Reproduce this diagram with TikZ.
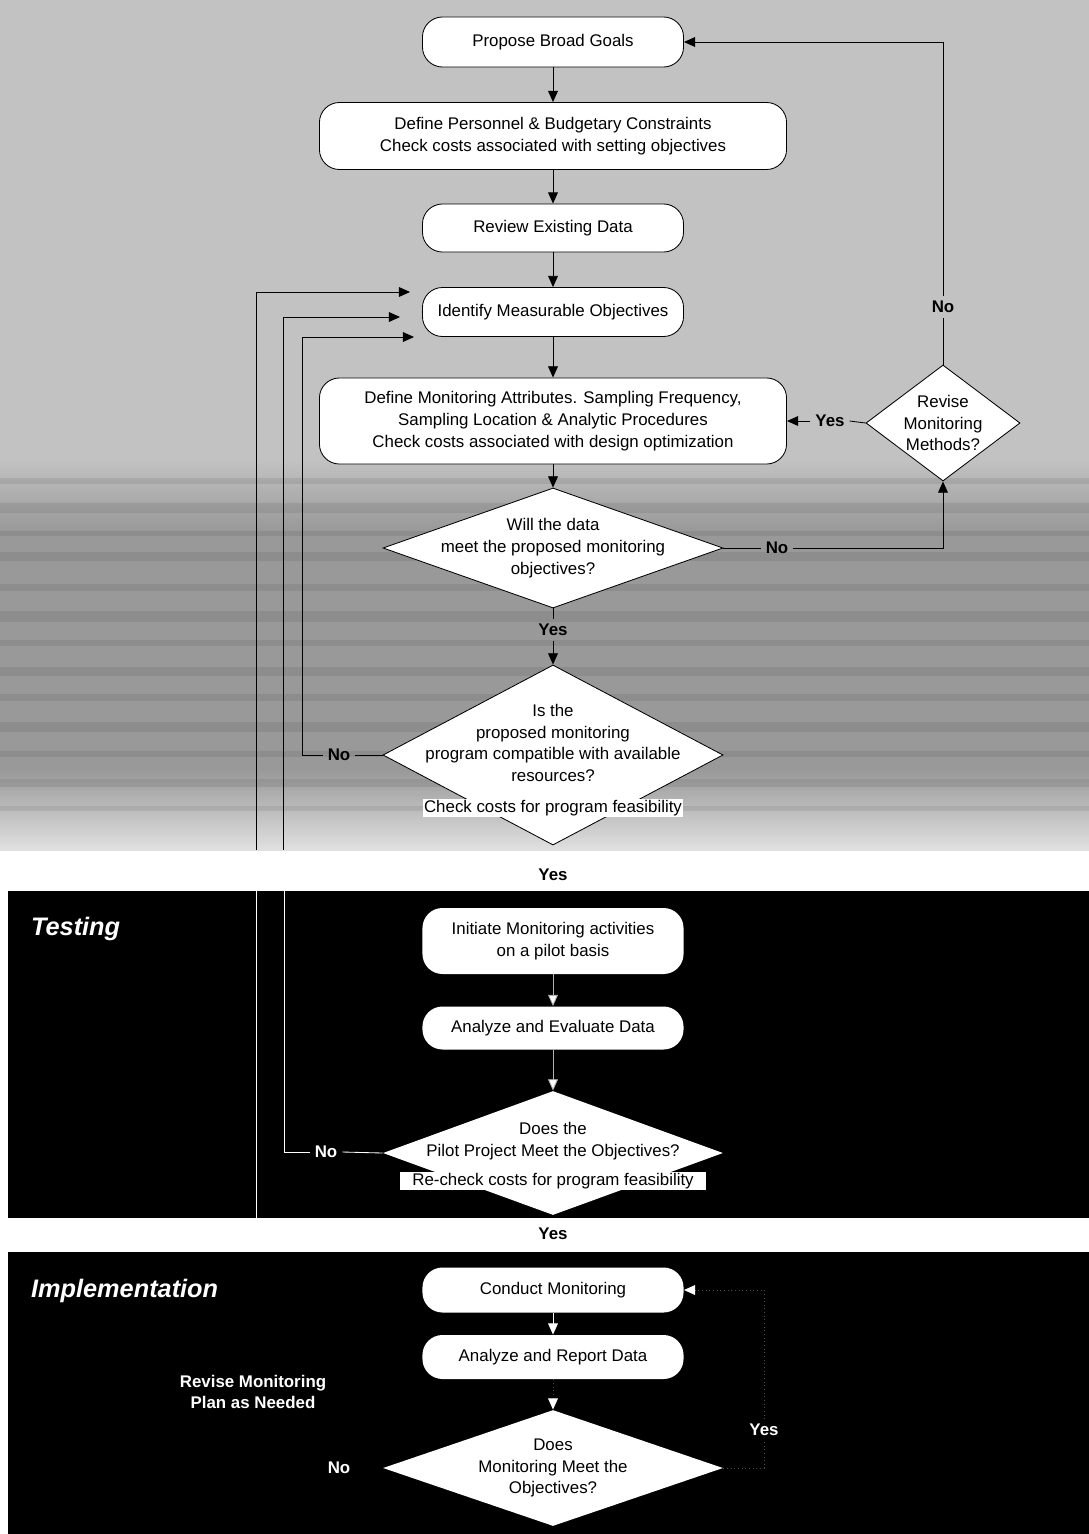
\documentclass[tikz,border=0pt]{standalone}
\usepackage{fontspec}
\setmainfont{Liberation Sans}
\usetikzlibrary{calc, arrows.meta, shapes.geometric}
\definecolor{scanlight}{gray}{0.88}
\definecolor{scangray}{gray}{0.76}
\definecolor{scandark}{gray}{0.6}
\newcommand{\bodyfont}{\fontsize{12}{15.5}\selectfont}
\newcommand{\titlefont}{\fontsize{18}{20}\selectfont\bfseries\itshape}
\tikzset{
    box/.style={draw, fill=white, rounded corners=0.5cm, align=center, inner sep=0pt, minimum width=6.525cm},
    wide/.style={box, minimum width=11.675cm},
    dia/.style={diamond, draw, fill=white, inner sep=0pt, minimum width=8.5cm},
    txt/.style={align=center},
    lab/.style={font=\bodyfont\bfseries},
    arr/.style={-{Triangle[length=8pt,width=7pt]}},
    warr/.style={white, -{Triangle[length=8pt,width=7pt]}},
    garr/.style={gray!60, -{Triangle[length=8pt,width=7pt,fill=white]}},
    darr/.style={gray!60!black, dotted, -{Triangle[length=8pt,width=7pt,color=white]}},
}
\begin{document}
\begin{tikzpicture}[x=0.025cm, y=-0.025cm, line width=0.6pt, font=\bodyfont]
            \useasboundingbox (0,0) rectangle (1089,1534);
            \fill[scangray] (0,0) rectangle (1089,460);
            \shade[top color=scangray, bottom color=scandark] (0,460) rectangle (1089,530);
            \fill[scandark] (0,530) rectangle (1089,770);
            \shade[top color=scandark, bottom color=scanlight] (0,770) rectangle (1089,850);
            \foreach \y/\h in {478/6,503/10,531/5,552/9,584/7,611/11,640/6,667/9,694/7,722/10,751/6,779/8,806/5}{
                \fill[black, opacity=0.08] (0,\y) rectangle (1089,\y+\h);
            }
            \fill[black] (8,891) rectangle (1089,1218);
            \fill[black] (8,1252) rectangle (1089,1534);
            \node[box, minimum height=1.25cm] (goals) at (553,42) {Propose Broad Goals};
            \node[wide, minimum height=1.675cm] (budget) at (553,136) {Define Personnel \& Budgetary Constraints\\Check costs associated with setting objectives};
            \node[box, minimum height=1.2cm] (review) at (553,228) {Review Existing Data};
            \node[box, minimum height=1.225cm] (objectives) at (553,312) {Identify Measurable Objectives};
            \node[wide, minimum height=2.15cm] (design) at (553,421) {Define Monitoring Attributes. Sampling Frequency,\\Sampling Location \& Analytic Procedures\\Check costs associated with design optimization};
            \node[dia, minimum height=3cm] (willdata) at (553,548) {};
            \node[txt] (willdata-txt) at (willdata) {Will the data\\meet the proposed monitoring\\objectives?};
            \node[dia, minimum height=4.5cm] (compatible) at (553,755) {};
            \node[txt] (compatible-txt) at (553,743) {Is the\\proposed monitoring\\program compatible with available\\resources?};
            \node[fill=white, inner sep=1pt] (checkcost) at (553,808) {Check costs for program feasibility};
            \node[dia, minimum width=3.85cm, minimum height=2.9cm] (revise) at (943,423) {};
            \node[txt] (revise-txt) at (revise) {Revise\\Monitoring\\Methods?};
            \node[lab] (noR) at (943,307) {No};
            \node[lab] (yesA) at (830,421) {Yes};
            \node[lab] (noA) at (777,548) {No};
            \node[lab] (yesB) at (553,630) {Yes};
            \node[lab] (noB) at (339,755) {No};
            \node[lab] (yesC) at (553,875) {Yes};
            \foreach \a/\b in {goals/budget, budget/review, review/objectives, objectives/design, design/willdata}{
                \draw[arr] (\a.south) -- (\b.north);
            }
            \draw (willdata.south) -- (yesB.north);
            \draw[arr] (yesB.south) -- (compatible.north);
            \draw (willdata.east) -- (noA.west);
            \draw[arr] (noA.east) -| (revise.south);
            \draw (revise.west) -- (yesA.east);
            \draw[arr] (yesA.west) -- (design.east);
            \draw (revise.north) -- (noR.south);
            \draw[arr] (noR.north) |- (goals.east);
            \coordinate (objtop) at ([xshift=-0.3cm,yshift=0.5cm]objectives.west);
            \coordinate (objmid) at ([xshift=-0.55cm,yshift=-0.125cm]objectives.west);
            \coordinate (objbot) at ([xshift=-0.2cm,yshift=-0.625cm]objectives.west);
            \coordinate (gapA) at (256,850);
            \coordinate (gapB) at (283,850);
            \draw[arr] (gapA) |- (objtop);
            \draw[arr] (gapB) |- (objmid);
            \draw (compatible.west) -- (noB.east);
            \draw[arr] (noB.west) -- (302,755) |- (objbot);
            \node[font=\titlefont, white, anchor=west] (testing) at (26,929) {Testing};
            \node[box, draw=none, minimum height=1.65cm] (initiate) at (553,941) {Initiate Monitoring activities\\on a pilot basis};
            \node[box, draw=none, minimum height=1.075cm] (analyze) at (553,1028) {Analyze and Evaluate Data};
            \node[dia, draw=none, minimum height=3.1cm] (pilot) at (553,1153) {};
            \node[txt] (pilot-txt) at (553,1141) {Does the\\Pilot Project Meet the Objectives?};
            \node[fill=white, inner xsep=0.3cm, inner ysep=1pt] (recheck) at (553,1181) {Re-check costs for program feasibility};
            \node[lab, white] (noC) at (326,1152) {No};
            \node[lab] (yesE) at (553,1234) {Yes};
            \coordinate (tA1) at (256,891);
            \coordinate (tA2) at (256,1218);
            \coordinate (tB) at (284,891);
            \draw[garr] (initiate.south) -- (analyze.north);
            \draw[garr] (analyze.south) -- (pilot.north);
            \draw[white] (pilot.west) -- (noC.east);
            \draw[white] (noC.west) -| (tB);
            \draw[white] (tA1) -- (tA2);
            \node[font=\titlefont, white, anchor=west] (implementation) at (26,1291) {Implementation};
            \node[box, draw=none, minimum height=1.125cm] (conduct) at (553,1290) {Conduct Monitoring};
            \node[box, draw=none, minimum height=1.1cm] (report) at (553,1357) {Analyze and Report Data};
            \node[lab, white, align=center] (revplan) at (253,1392) {Revise Monitoring\\Plan as Needed};
            \node[dia, draw=none, minimum height=2.9cm] (monitor) at (553,1468) {};
            \node[txt] (monitor-txt) at (monitor) {Does\\Monitoring Meet the\\Objectives?};
            \node[lab, white] (noD) at (339,1468) {No};
            \node[lab, white] (yesD) at (764,1430) {Yes};
            \draw[warr] (conduct.south) -- (report.north);
            \draw[darr] (report.south) -- (monitor.north);
            \draw[gray!60!black, dotted] (monitor.east) -| (yesD.south);
            \draw[darr] (yesD.north) |- (conduct.east);
\end{tikzpicture}
\end{document}
